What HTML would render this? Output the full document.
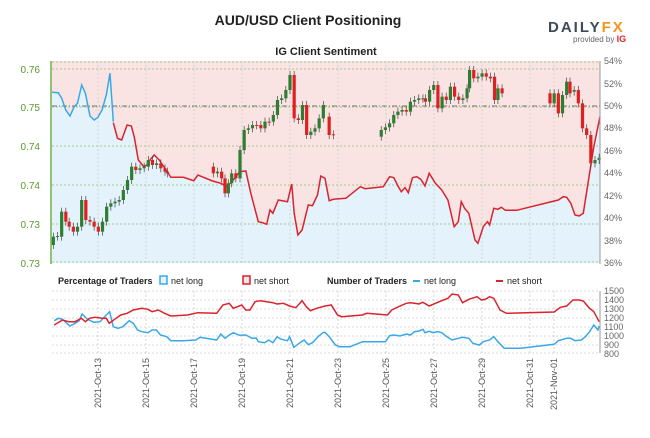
<!DOCTYPE html>
<html><head><meta charset="utf-8"><style>
body{margin:0;background:#fff;width:650px;height:433px;overflow:hidden;font-family:"Liberation Sans",sans-serif}
</style></head><body>
<svg id="s" width="650" height="433" xmlns="http://www.w3.org/2000/svg" font-family="Liberation Sans, sans-serif">
<rect width="650" height="433" fill="#fff"/>
<text x="308" y="25" text-anchor="middle" font-size="14" font-weight="bold" fill="#222">AUD/USD Client Positioning</text>
<text x="548" y="32" font-size="15" font-weight="bold" fill="#3d4a5a" letter-spacing="2">DAILY<tspan fill="#f7931e">FX</tspan></text>
<text x="573" y="42" font-size="8" fill="#666">provided by <tspan fill="#e0262d" font-weight="bold" font-size="9">IG</tspan></text>
<text x="326" y="55" text-anchor="middle" font-size="11" font-weight="bold" fill="#222">IG Client Sentiment</text>
<rect x="52" y="61" width="548" height="202" fill="#f9e3e3"/>
<g id="g1"></g>
<g id="g2"></g>
<g font-size="10" fill="#5a9a2a" text-anchor="end">
<text x="40" y="73">0.76</text><text x="40" y="111">0.75</text><text x="40" y="150">0.74</text><text x="40" y="189">0.74</text><text x="40" y="228">0.73</text><text x="40" y="267">0.73</text>
</g>
<line x1="51" y1="61" x2="51" y2="264" stroke="#6ab04c" stroke-width="1.5"/>
<g font-size="9" fill="#666">
<text x="604" y="64">54%</text><text x="604" y="87">52%</text><text x="604" y="109">50%</text><text x="604" y="131">48%</text><text x="604" y="154">46%</text><text x="604" y="176">44%</text><text x="604" y="199">42%</text><text x="604" y="221">40%</text><text x="604" y="244">38%</text><text x="604" y="266">36%</text>
</g>
<line x1="600" y1="61" x2="600" y2="264" stroke="#999"/>
<g font-size="9" fill="#222">
<text x="58" y="284" font-weight="bold">Percentage of Traders</text>
<rect x="160" y="276" width="7" height="8" fill="#e3f2fb" stroke="#3aa8e8" stroke-width="1.5"/>
<text x="171" y="284">net long</text>
<rect x="243" y="276" width="7" height="8" fill="#f9e3e3" stroke="#d9232d" stroke-width="1.5"/>
<text x="254" y="284">net short</text>
<text x="327" y="284" font-weight="bold">Number of Traders</text>
<line x1="413" y1="281" x2="420" y2="281" stroke="#3aa8e8" stroke-width="2"/>
<text x="424" y="284">net long</text>
<line x1="496" y1="281" x2="503" y2="281" stroke="#d9232d" stroke-width="2"/>
<text x="507" y="284">net short</text>
</g>
<g font-size="9" fill="#666">
<text x="604" y="294">1500</text><text x="604" y="303">1400</text><text x="604" y="312">1300</text><text x="604" y="321">1200</text><text x="604" y="330">1100</text><text x="604" y="339">1000</text><text x="604" y="348">900</text><text x="604" y="357">800</text>
</g>
<line x1="600" y1="291" x2="600" y2="353" stroke="#999"/>
<g id="dates" font-size="9" fill="#555"></g>
</svg>
<script>
var NS="http://www.w3.org/2000/svg";
function el(p,t,a){var e=document.createElementNS(NS,t);for(var k in a)e.setAttribute(k,a[k]);p.appendChild(e);return e;}
function M(pts,oy){return pts.map(function(p){return [(p[0]/2.4).toFixed(1),(p[1]/3+oy).toFixed(1)];});}
var g1=document.getElementById('g1'),g2=document.getElementById('g2');
var blue=[[125,157],[140,158],[148,175],[158,210],[168,228],[178,200],[186,190],[196,135],[205,160],[216,228],[226,240],[235,232],[245,210],[255,165],[264,100],[272,245]];
var red=[[272,248],[282,295],[292,300],[305,255],[315,258],[322,290],[332,360],[345,380],[352,375],[360,360],[370,345],[382,360],[400,393],[410,412],[440,412],[465,422],[475,405],[510,423],[530,430],[545,440],[560,420],[575,395],[590,393],[602,460],[620,545],[630,548],[640,553],[648,510],[655,520],[668,480],[690,485],[700,432],[706,520],[715,585],[725,570],[740,495],[750,497],[762,465],[770,408],[780,415],[790,482],[800,478],[830,475],[865,440],[876,446],[920,440],[935,410],[945,413],[955,438],[963,455],[972,443],[980,458],[990,413],[1000,410],[1010,418],[1020,438],[1030,400],[1045,430],[1060,450],[1075,480],[1090,560],[1100,545],[1107,485],[1115,505],[1125,520],[1140,600],[1147,610],[1160,560],[1170,545],[1175,555],[1185,505],[1195,508],[1203,502],[1213,511],[1240,511],[1340,480],[1352,470],[1360,472],[1370,490],[1380,525],[1390,528],[1400,520],[1415,400],[1425,320],[1440,230]];
var all=M(blue.concat(red),40);
var poly=all.map(function(p){return p.join(',')}).join(' ')+' 600,263 52,263';
el(g1,'polygon',{points:poly,fill:'#e3f2fb'});
// grid
[69,107,146,185,224].forEach(function(y){el(g1,'line',{x1:52,x2:600,y1:y,y2:y,stroke:'#8fc06a','stroke-dasharray':'2,2','stroke-width':0.8});});
el(g1,'line',{x1:52,x2:600,y1:62,y2:62,stroke:'#8fc06a','stroke-dasharray':'2,2','stroke-width':0.8});
el(g1,'line',{x1:52,x2:600,y1:262,y2:262,stroke:'#8fc06a','stroke-dasharray':'2,2','stroke-width':0.8});
el(g1,'line',{x1:52,x2:600,y1:106,y2:106,stroke:'#777','stroke-dasharray':'5,2,1,2','stroke-width':1});
var xs=[98,146,194,242,290,338,386,434,482,530,554];
xs.forEach(function(x){el(g1,'line',{x1:x,x2:x,y1:61,y2:263,stroke:'#ccc','stroke-dasharray':'2,2','stroke-width':0.8});
 el(g2,'line',{x1:x,x2:x,y1:291,y2:353,stroke:'#ccc','stroke-dasharray':'2,2','stroke-width':0.8});});
[291,300,309,318,327,336,345,353].forEach(function(y){el(g2,'line',{x1:52,x2:600,y1:y,y2:y,stroke:'#ccc','stroke-dasharray':'2,2','stroke-width':0.8});});
el(g1,'polyline',{points:M(blue,40).join(' '),fill:'none',stroke:'#3aa8e8','stroke-width':1.5});
el(g1,'polyline',{points:M(red,40).join(' '),fill:'none',stroke:'#d9232d','stroke-width':1.5});
// candles
var c=[[128,615,590],[138,590,588],[148,590,515],[158,515,545],[166,545,560],[176,560,575],[186,575,560],[196,560,480],[206,480,540],[216,540,545],[226,545,560],[236,560,575],[246,575,545],[256,545,500],[266,500,490],[276,490,485],[286,485,480],[296,480,450],[306,450,420],[316,420,380],[326,380,390],[336,390,385],[346,385,380],[356,380,360],[366,360,375],[376,375,370],[386,370,385],[396,385,395],[402,395,400],
[512,380,400],[522,400,395],[532,395,415],[540,415,460],[548,460,430],[556,430,400],[566,400,415],[576,415,330],[586,330,270],[596,270,265],[606,265,255],[616,255,256],[626,255,265],[636,265,245],[646,245,246],[656,245,225],[666,225,180],[676,180,175],[686,175,150],[696,150,105],[706,105,235],[716,235,240],[726,240,195],[736,195,285],[746,285,275],[756,275,265],[766,265,235],[776,235,195],[790,230,285],[800,283,286],
[915,290,270],[925,270,262],[935,262,250],[945,250,225],[955,225,215],[965,215,210],[975,210,215],[985,215,185],[995,185,180],[1005,180,175],[1015,176,175],[1021,175,185],[1031,185,150],[1041,150,135],[1051,135,205],[1061,205,170],[1071,170,180],[1081,180,140],[1091,140,170],[1101,170,180],[1111,180,175],[1121,175,145],[1127,145,90],[1137,90,115],[1147,115,110],[1157,110,100],[1167,100,110],[1177,110,115],[1187,110,180],[1195,180,145],[1205,145,160],
[1320,160,190],[1330,190,160],[1340,160,220],[1350,220,165],[1360,165,125],[1368,125,160],[1378,155,150],[1388,150,190],[1398,190,265],[1408,265,285],[1418,285,370],[1428,370,360],[1438,360,353]];
c.forEach(function(k){var x=k[0]/2.4,o=k[1]/3+40,cl=k[2]/3+40,up=cl<o,col=up?'#2e7d32':'#e02020';
 var t=Math.min(o,cl),b=Math.max(o,cl);
 el(g1,'line',{x1:x,x2:x,y1:t-4,y2:b+4,stroke:'#444','stroke-width':0.7});
 el(g1,'rect',{x:x-1.6,y:t,width:3.2,height:Math.max(b-t,1),fill:col});});
var rs=[[130,165],[150,150],[165,155],[180,155],[195,145],[205,155],[215,145],[228,142],[245,145],[255,145],[262,160],[275,148],[290,135],[305,130],[320,120],[340,115],[355,118],[365,125],[380,120],[395,130],[410,138],[450,135],[475,128],[520,130],[535,105],[550,100],[560,115],[580,105],[590,120],[600,120],[612,95],[625,92],[640,95],[655,98],[665,102],[680,100],[695,108],[710,113],[725,92],[735,110],[745,122],[760,115],[780,108],[795,105],[810,135],[820,140],[870,135],[880,130],[930,135],[940,120],[960,108],[975,100],[985,98],[995,100],[1005,102],[1015,97],[1030,108],[1045,100],[1060,92],[1075,85],[1085,72],[1100,75],[1110,98],[1125,88],[1145,80],[1155,90],[1165,88],[1175,80],[1185,85],[1200,120],[1215,130],[1330,126],[1345,112],[1360,108],[1375,90],[1390,90],[1400,93],[1415,115],[1425,125],[1438,155]];
var bs=[[130,152],[140,145],[150,148],[160,160],[168,168],[180,160],[190,152],[197,132],[210,148],[225,157],[240,155],[255,135],[263,125],[272,170],[283,175],[295,170],[310,152],[320,160],[330,180],[340,185],[355,188],[365,180],[375,180],[385,195],[400,200],[410,212],[440,212],[470,210],[480,202],[520,210],[530,192],[540,205],[550,195],[560,188],[575,196],[590,195],[605,205],[615,204],[620,215],[635,218],[645,210],[655,218],[665,200],[675,208],[690,212],[695,200],[705,232],[720,218],[730,210],[740,224],[750,218],[765,198],[775,188],[780,187],[790,200],[805,225],[815,230],[840,230],[870,215],[890,215],[925,215],[935,197],[945,195],[960,198],[975,192],[985,195],[995,185],[1005,183],[1015,178],[1020,188],[1030,184],[1040,188],[1050,185],[1060,188],[1070,198],[1085,210],[1100,205],[1110,202],[1125,205],[1135,220],[1150,225],[1160,215],[1175,210],[1185,200],[1195,215],[1210,235],[1250,235],[1300,227],[1330,223],[1340,212],[1360,205],[1370,205],[1380,212],[1395,210],[1405,200],[1415,185],[1425,165],[1435,180],[1438,168]];
el(g2,'polyline',{points:M(bs,270).join(' '),fill:'none',stroke:'#3aa8e8','stroke-width':1.5});
el(g2,'polyline',{points:M(rs,270).join(' '),fill:'none',stroke:'#d9232d','stroke-width':1.5});
var labels=['2021-Oct-13','2021-Oct-15','2021-Oct-17','2021-Oct-19','2021-Oct-21','2021-Oct-23','2021-Oct-25','2021-Oct-27','2021-Oct-29','2021-Oct-31','2021-Nov-01'];
var d=document.getElementById('dates');
labels.forEach(function(l,i){var x=xs[i]+3;var t=el(d,'text',{x:x,y:358,'text-anchor':'end',transform:'rotate(-90 '+x+' 358)'});t.textContent=l;});
</script>
</body></html>
